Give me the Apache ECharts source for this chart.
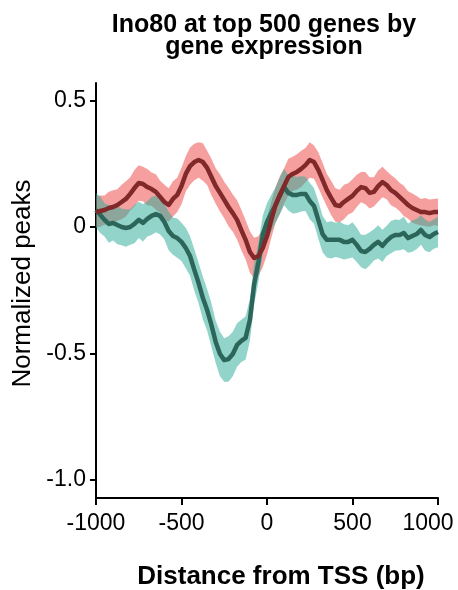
<!DOCTYPE html>
<html>
<head>
<meta charset="utf-8">
<script src="https://cdn.jsdelivr.net/npm/echarts@6/dist/echarts.min.js"></script>
<style>
html,body{margin:0;padding:0;background:#fff;}
#chart{width:458px;height:590px;}
</style>
</head>
<body>
<div id="chart"></div>
<script>
// Distance from TSS (bp)
const positions = [-1000,-975,-950,-925,-900,-875,-850,-825,-800,-775,-750,-725,-700,-675,-650,-625,-600,-575,-550,-525,
  -500,-475,-450,-425,-400,-375,-350,-325,-300,-275,-250,-225,-200,-175,-150,-125,-100,-75,-50,-25,
  0,25,50,75,100,125,150,175,200,225,250,275,300,325,350,375,400,425,450,475,
  500,525,550,575,600,625,650,675,700,725,750,775,800,825,850,875,900,925,950,975,1000];

// Red series (mean and half-width of band)
const redMean = [0.059,0.063,0.067,0.075,0.079,0.087,0.099,0.111,0.131,0.154,0.174,
  0.170,0.158,0.150,0.139,0.119,0.099,0.087,0.111,0.127,0.162,
  0.210,0.241,0.257,0.265,0.257,0.234,0.198,0.162,0.135,0.107,
  0.079,0.055,0.028,-0.012,-0.051,-0.099,-0.123,-0.115,-0.083,-0.036,
  0.028,0.087,0.127,0.162,0.198,0.210,0.218,0.230,0.245,0.265,
  0.257,0.226,0.186,0.146,0.115,0.087,0.083,0.099,0.111,0.123,
  0.143,0.158,0.154,0.135,0.139,0.162,0.178,0.166,0.146,0.135,
  0.119,0.103,0.087,0.075,0.067,0.059,0.059,0.055,0.059,0.059];
const redBand = [0.060,0.062,0.058,0.064,0.066,0.062,0.068,0.070,0.066,0.072,0.070,
  0.068,0.072,0.066,0.070,0.064,0.068,0.066,0.070,0.068,0.072,
  0.070,0.074,0.072,0.070,0.074,0.068,0.072,0.070,0.074,0.072,
  0.076,0.074,0.078,0.080,0.078,0.082,0.080,0.078,0.076,0.074,
  0.072,0.070,0.074,0.070,0.072,0.068,0.070,0.072,0.068,0.070,
  0.066,0.070,0.068,0.064,0.068,0.066,0.064,0.068,0.062,0.066,
  0.064,0.060,0.064,0.062,0.058,0.062,0.060,0.056,0.060,0.058,
  0.056,0.060,0.054,0.058,0.056,0.052,0.056,0.054,0.052,0.054];

// Teal series (mean and half-width of band)
const tealMean = [0.067,0.048,0.028,0.012,0.016,0.008,0.000,-0.004,0.000,0.012,0.028,
  0.016,0.032,0.044,0.051,0.044,0.020,-0.016,-0.036,-0.044,-0.059,
  -0.083,-0.115,-0.170,-0.222,-0.281,-0.329,-0.388,-0.455,-0.503,-0.527,
  -0.523,-0.503,-0.467,-0.451,-0.439,-0.368,-0.226,-0.139,-0.032,0.020,
  0.055,0.087,0.123,0.158,0.135,0.127,0.127,0.131,0.131,0.103,
  0.083,0.028,-0.028,-0.051,-0.051,-0.051,-0.051,-0.059,-0.059,-0.051,
  -0.071,-0.095,-0.099,-0.087,-0.071,-0.059,-0.075,-0.055,-0.040,-0.032,
  -0.032,-0.024,-0.044,-0.036,-0.028,-0.012,-0.032,-0.040,-0.028,-0.020];
const tealBand = [0.068,0.072,0.066,0.074,0.070,0.076,0.072,0.074,0.070,0.076,0.072,
  0.074,0.070,0.076,0.072,0.074,0.070,0.076,0.074,0.078,0.076,
  0.080,0.078,0.082,0.080,0.084,0.082,0.086,0.084,0.088,0.086,
  0.090,0.088,0.086,0.084,0.086,0.082,0.080,0.078,0.076,0.074,
  0.072,0.070,0.074,0.072,0.070,0.074,0.072,0.070,0.068,0.072,
  0.070,0.074,0.072,0.070,0.074,0.068,0.072,0.070,0.066,0.070,
  0.068,0.064,0.068,0.066,0.062,0.066,0.064,0.060,0.064,0.062,
  0.060,0.064,0.058,0.062,0.060,0.058,0.062,0.060,0.058,0.060];

const yTicks = [-1, -0.5, 0, 0.5];
const xTicks = [-1000, -500, 0, 500, 1000];

const FONT = '"Liberation Sans", Arial, Helvetica, sans-serif';

function pairs(vals) { return positions.map((x, i) => [x, vals[i]]); }
function bandData(mean, half) { return positions.map((x, i) => [x, mean[i] - half[i], mean[i] + half[i]]); }

function bandSeries(name, data, color) {
  return {
    type: 'custom', name: name, data: data, silent: true,
    encode: {x: 0, y: [1, 2]},
    renderItem: function (params, api) {
      if (params.dataIndex !== 0) return null;
      const upper = [], lower = [];
      for (let i = 0; i < data.length; i++) {
        upper.push(api.coord([data[i][0], data[i][2]]));
        lower.push(api.coord([data[i][0], data[i][1]]));
      }
      return {
        type: 'polygon',
        shape: {points: upper.concat(lower.reverse())},
        style: {fill: color, opacity: 0.5, stroke: 'none'}
      };
    }
  };
}

const chart = echarts.init(document.getElementById('chart'), null, {renderer: 'canvas'});

chart.setOption({
  animation: false,
  backgroundColor: '#ffffff',
  title: {
    text: 'Ino80 at top 500 genes by\ngene expression',
    left: 259, top: 9, textAlign: 'center',
    textStyle: {fontFamily: FONT, fontSize: 25, fontWeight: 'bold', color: '#000', lineHeight: 22}
  },
  grid: {left: 96, right: 20, top: 83, bottom: 92, containLabel: false, outerBoundsMode: 'none'},
  xAxis: {
    type: 'value', min: -1000, max: 1000, interval: 500,
    name: 'Distance from TSS (bp)', nameLocation: 'middle', nameGap: 66,
    nameTextStyle: {fontFamily: FONT, fontSize: 26, fontWeight: 'bold', color: '#000', padding: [0, 0, 0, 28]},
    axisLine: {show: true, onZero: false, lineStyle: {color: '#000', width: 2}},
    axisTick: {show: true, length: 7, lineStyle: {color: '#000', width: 2}, customValues: xTicks},
    axisLabel: {fontFamily: FONT, fontSize: 23, color: '#000', margin: 14, customValues: xTicks,
      formatter: v => (v === 1000 ? '{last|1000}' : String(v)),
      rich: {last: {fontFamily: FONT, fontSize: 23, color: '#000', padding: [0, 20, 0, 0]}}},
    splitLine: {show: false}
  },
  yAxis: {
    type: 'value', min: -1.073, max: 0.57,
    name: 'Normalized peaks', nameLocation: 'middle', nameGap: 51,
    nameTextStyle: {fontFamily: FONT, fontSize: 26, color: '#000', padding: [0, 0, 0, 14]},
    axisLine: {show: true, onZero: false, lineStyle: {color: '#000', width: 2}},
    axisTick: {show: true, length: 6, lineStyle: {color: '#000', width: 2}, customValues: yTicks},
    axisLabel: {fontFamily: FONT, fontSize: 23, color: '#000', margin: 10, customValues: yTicks,
      formatter: v => (v === -1 ? '-1.0' : String(v))},
    splitLine: {show: false}
  },
  series: [
    bandSeries('redBand', bandData(redMean, redBand), 'rgb(236,66,62)'),
    bandSeries('tealBand', bandData(tealMean, tealBand), 'rgb(38,169,150)'),
    {type: 'line', name: 'teal', data: pairs(tealMean), symbol: 'none', silent: true,
      lineStyle: {color: '#2C665A', width: 4.5, join: 'round'}},
    {type: 'line', name: 'red', data: pairs(redMean), symbol: 'none', silent: true,
      lineStyle: {color: '#80282A', width: 4.5, join: 'round'}}
  ]
});
</script>
</body>
</html>
